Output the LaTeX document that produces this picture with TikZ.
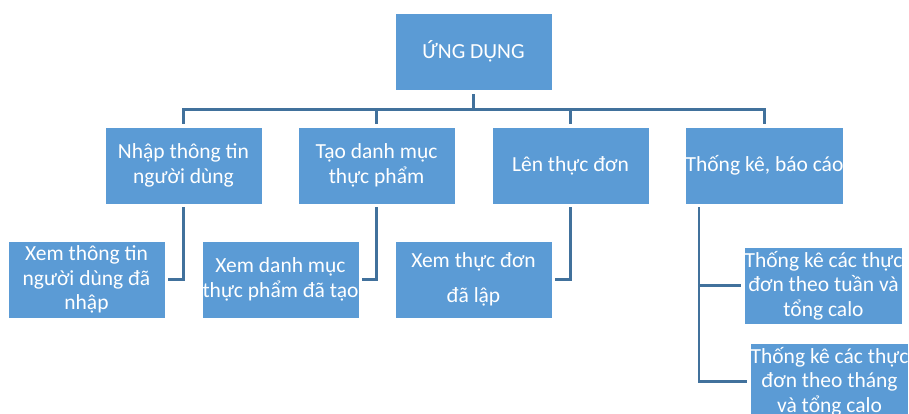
\documentclass[tikz,border=0pt]{standalone}
\usepackage{fontspec}
\setmainfont{Carlito}
\definecolor{boxblue}{HTML}{5B9BD5}
\definecolor{linecol}{HTML}{41719C}
\begin{document}
\begin{tikzpicture}[x=1pt,y=-1pt,
  box/.style={rectangle,draw=white,line width=0.8pt,fill=boxblue,text=white,
    minimum width=157pt,minimum height=77pt,inner sep=0pt,align=center,
    font=\fontsize{21.5pt}{24.5pt}\selectfont},
  conn/.style={draw=linecol,line width=2.4pt}]
\useasboundingbox (0,0) rectangle (909,414);
\node[box] (root) at (473.5,51.5) {ỨNG DỤNG};
\node[box] (b1) at (183.5,165.5) {Nhập thông tin\\người dùng};
\node[box] (b2) at (376.5,165.5) {Tạo danh mục\\thực phẩm};
\node[box] (b3) at (570.5,165.5) {Lên thực đơn};
\node[box] (b4) at (764.5,165.5) {Thống kê, báo cáo};
\node[box] (c1) at (86.5,279.5) {Xem thông tin\\người dùng đã\\nhập};
\node[box] (c2) at (280.5,279.5) {Xem danh mục\\thực phẩm đã tạo};
\node[box] (c3) at (473.5,279.5) {Xem thực đơn\\[10pt]đã lập};
\node[box] (d1) at (823.5,285.5) {Thống kê các thực\\đơn theo tuần và\\tổng calo};
\node[box] (d2) at (829.5,381.5) {Thống kê các thực\\đơn theo tháng\\và tổng calo};
% top bus
\draw[conn] ([yshift=-4pt]root.south) -- ++(0,15) coordinate (bus);
\draw[conn] ([yshift=3pt]b1.north) -- (b1.north |- bus) -- (b4.north |- bus) -- ([yshift=3pt]b4.north);
\draw[conn] ([yshift=3pt]b2.north) -- (b2.north |- bus);
\draw[conn] ([yshift=3pt]b3.north) -- (b3.north |- bus);
% children
\draw[conn] ([yshift=-3pt]b1.south) |- ([xshift=3pt]c1.east);
\draw[conn] ([yshift=-3pt]b2.south) |- ([xshift=3pt]c2.east);
\draw[conn] ([yshift=-3pt]b3.south) |- ([xshift=3pt]c3.east);
\coordinate (v) at ([shift={(14pt,-3pt)}]b4.south west);
\draw[conn] (v) |- ([xshift=-3pt]d2.west);
\draw[conn] (v |- d1.west) -- ([xshift=-3pt]d1.west);
\end{tikzpicture}
\end{document}
